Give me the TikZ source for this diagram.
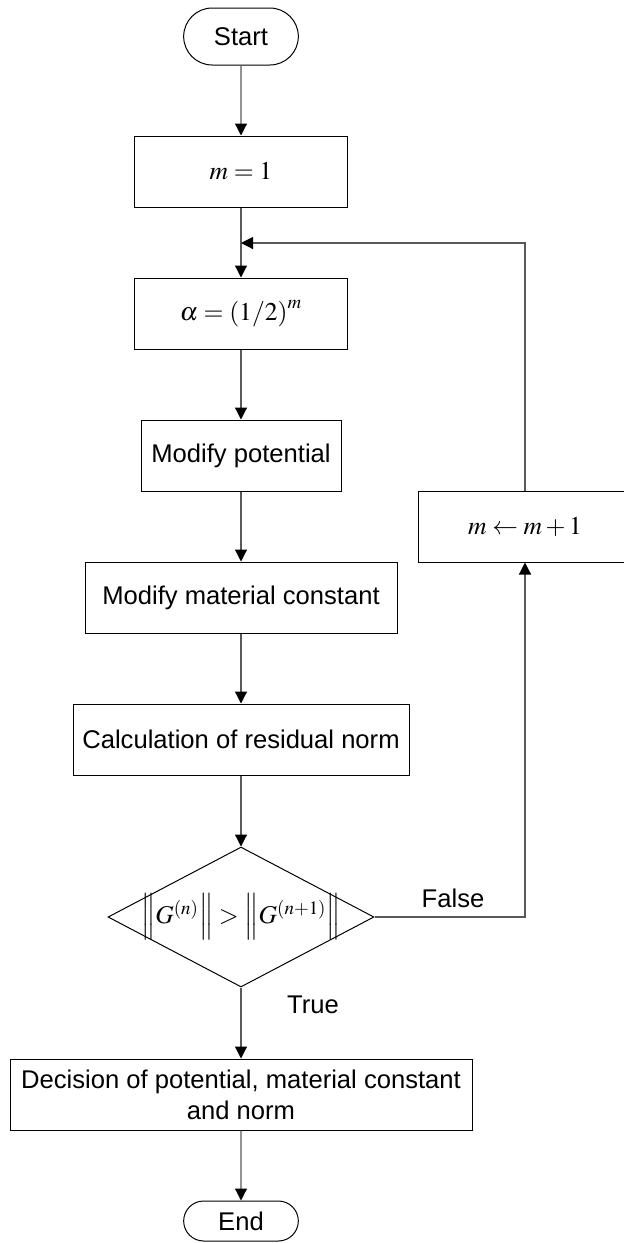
\documentclass[tikz,border=0pt]{standalone}
\usepackage{mathptmx}
\usepackage[no-math]{fontspec}
\setmainfont{Liberation Sans}
\usetikzlibrary{arrows.meta,shapes.geometric,shapes.misc}

\tikzset{
  block/.style={draw, rectangle, line width=0.5pt, minimum height=35.5pt, inner sep=2pt},
  term/.style={draw, rounded rectangle, line width=0.5pt, minimum width=64pt},
  test/.style={draw, diamond, inner sep=0pt, line width=0.5pt,
    minimum width=133pt, minimum height=70pt},
  flow/.style={draw=black!65, line width=0.6pt,
    -{Triangle[width=6pt, length=6pt, color=black]}},
}

\begin{document}
\begin{tikzpicture}[x=0.5pt, y=-0.5pt, font=\fontsize{12.8}{15.5}\selectfont]
  \useasboundingbox (0,0) rectangle (623,1243);

  \node[term, minimum height=28.5pt] (start) at (241,36.5) {Start};
  \node[block, minimum width=106.5pt] (m1) at (241,171.5) {$m=1$};
  \coordinate (join) at (241,243);
  \node[block, minimum width=106.5pt] (alpha) at (241,313.5) {$\alpha=\left(1/2\right)^{m}$};
  \node[block, minimum width=100pt] (modpot) at (241,455.5) {Modify potential};
  \node[block, minimum width=156pt] (modmat) at (241,597.5) {Modify material constant};
  \node[block, minimum width=168pt] (calc) at (241,739.5) {Calculation of residual norm};
  % the diamond keeps its own size, the test is set on top of it
  \node[test] (dec) at (241,917) {};
  \node[inner sep=0pt] (cond) at (dec.center) {$\left\|G^{(n)}\right\|>\left\|G^{(n+1)}\right\|$};
  \node[block, minimum width=231pt, align=center] (final) at (241,1094.5)
    {Decision of potential, material constant\\and norm};
  \node[term, minimum height=20pt] (end) at (241,1221) {End};
  \node[block, minimum width=107pt] (inc) at (525,526.5) {$m\leftarrow m+1$};

  \node (no) at (453,898) {False};
  \node (yes) at (313,1005) {True};

  % main chain
  \draw[flow] (start) -- (m1);
  \draw[flow] (m1) -- (alpha);
  \draw[flow] (alpha) -- (modpot);
  \draw[flow] (modpot) -- (modmat);
  \draw[flow] (modmat) -- (calc);
  \draw[flow] (calc) -- (dec);
  \draw[flow] (dec) -- (final);
  \draw[flow] (final) -- (end);

  % loop back
  \draw[flow] (dec.east) -| (inc.south);
  \draw[flow] (inc.north) |- (join);
\end{tikzpicture}
\end{document}
